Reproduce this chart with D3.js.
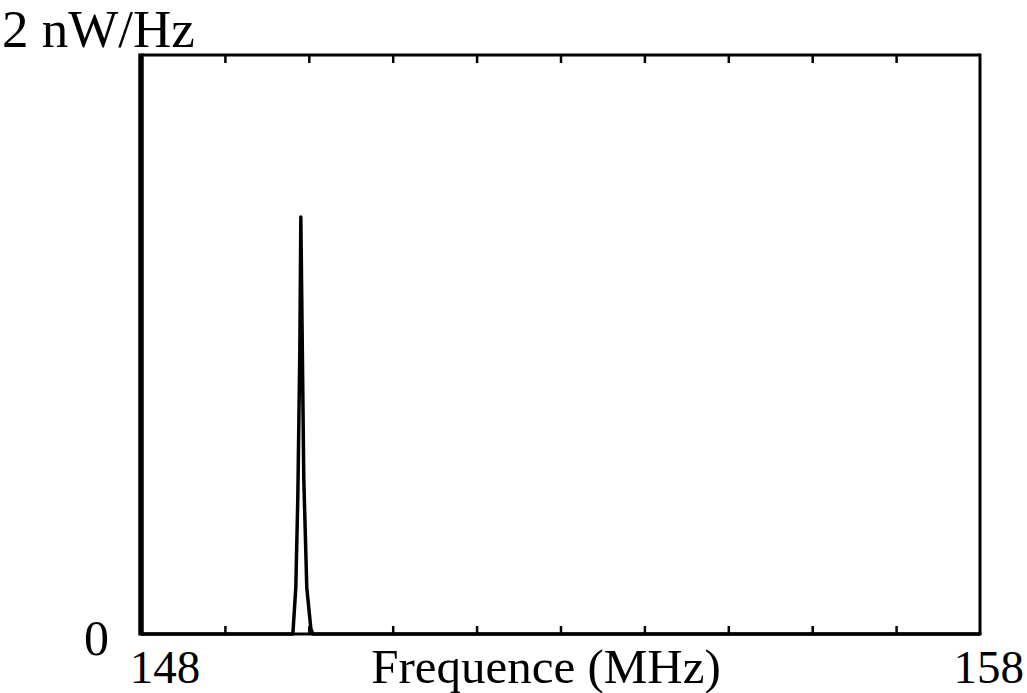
<!DOCTYPE html>
<html><head><meta charset="utf-8">
<script src="https://cdn.jsdelivr.net/npm/d3@7"></script>
<style>
html,body{margin:0;padding:0;background:#fff;}
svg text{font-family:"Liberation Serif","Times New Roman",serif;fill:#000;}
</style></head>
<body>
<svg id="chart" width="1027" height="693"></svg>
<script>
// Data
const freqMHz = [148, 149.81, 149.845, 149.869, 149.893, 149.905, 149.923, 149.940, 149.976, 150.024, 150.048, 158];
const powerNW = [0, 0, 0.16, 0.47, 0.98, 1.44, 0.98, 0.54, 0.16, 0.02, 0, 0];
const xTicks = [149, 150, 151, 152, 153, 154, 155, 156, 157];
const xDomain = [148, 158];
const yDomain = [0, 2];
const xEndLabels = ["148", "158"];
const yLabels = ["0", "2 nW/Hz"];
const xTitle = "Frequence (MHz)";

(function () {
const svg = d3.select("#chart");
const pL = 141, pR = 980, pT = 55, pB = 634;
const x = d3.scaleLinear().domain(xDomain).range([pL, pR]);
const y = d3.scaleLinear().domain(yDomain).range([pB, pT]);

// Top and bottom ticks (pointing inward)
const topAxis = d3.axisBottom(x).tickValues(xTicks).tickSize(8).tickFormat("");
const gTop = svg.append("g").attr("transform", `translate(0,${pT})`).call(topAxis);
const botAxis = d3.axisTop(x).tickValues(xTicks).tickSize(8).tickFormat("");
const gBot = svg.append("g").attr("transform", `translate(0,${pB})`).call(botAxis);
[gTop, gBot].forEach(g => {
  g.select(".domain").remove();
  g.selectAll("line").attr("stroke", "#000").attr("stroke-width", 2.5);
});

// Frame
svg.append("line").attr("x1", pL).attr("x2", pR).attr("y1", pT).attr("y2", pT)
  .attr("stroke", "#000").attr("stroke-width", 3);
svg.append("line").attr("x1", pL).attr("x2", pR + 1.5).attr("y1", pB).attr("y2", pB)
  .attr("stroke", "#000").attr("stroke-width", 3);
svg.append("line").attr("x1", pR).attr("x2", pR).attr("y1", pT - 1.5).attr("y2", pB)
  .attr("stroke", "#000").attr("stroke-width", 3);
svg.append("line").attr("x1", pL).attr("x2", pL).attr("y1", pT - 1.5).attr("y2", pB + 1.5)
  .attr("stroke", "#000").attr("stroke-width", 5.5);

// Spectrum
const data = freqMHz.map((f, i) => [f, powerNW[i]]);
svg.append("path").datum(data)
  .attr("d", d3.line().x(d => x(d[0])).y(d => y(d[1])))
  .attr("fill", "none").attr("stroke", "#000").attr("stroke-width", 3.5)
  .attr("stroke-linejoin", "round");

// Labels
svg.append("text").attr("x", 2).attr("y", 47).attr("font-size", 53).text(yLabels[1]);
svg.append("text").attr("x", 109).attr("y", 655).attr("text-anchor", "end").attr("font-size", 50).text(yLabels[0]);
svg.append("text").attr("x", x(xDomain[0]) + 24).attr("y", 683).attr("text-anchor", "middle").attr("font-size", 47).text(xEndLabels[0]);
svg.append("text").attr("x", 1024).attr("y", 683).attr("text-anchor", "end").attr("font-size", 47).text(xEndLabels[1]);
svg.append("text").attr("x", 546).attr("y", 683).attr("text-anchor", "middle").attr("font-size", 49).text(xTitle);
})();
</script>
</body></html>
